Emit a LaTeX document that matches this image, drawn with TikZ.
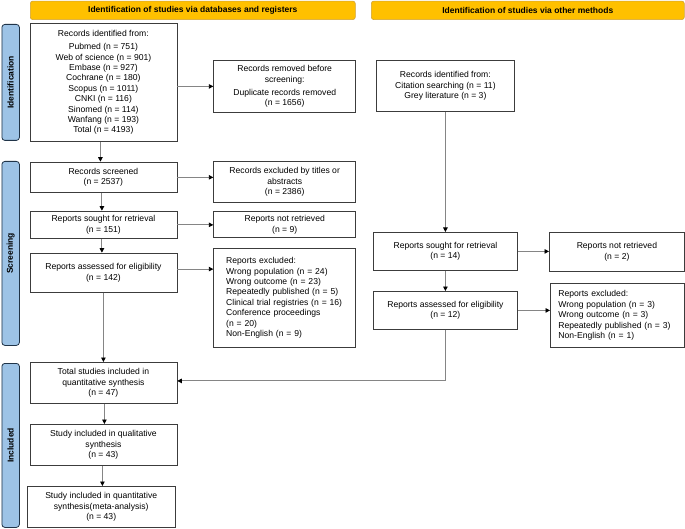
\documentclass[tikz,border=0pt]{standalone}
\usepackage{fontspec}
\setmainfont{Liberation Sans}
\usetikzlibrary{arrows.meta,calc}
\definecolor{banner}{HTML}{FFC000}
\definecolor{bannerline}{HTML}{CFA23A}
\definecolor{sidefill}{HTML}{9DC3E6}
\definecolor{sideline}{HTML}{203448}
\definecolor{boxline}{HTML}{3C3C3C}
\definecolor{conn}{HTML}{858585}
\begin{document}
\begin{tikzpicture}[x=1pt,y=-1pt,
  txt/.style={font=\fontsize{8.6}{10.4}\selectfont},
  box/.style={draw=boxline, line width=0.8pt, fill=white, rectangle, inner sep=0pt, anchor=north west, align=center, txt},
  lbox/.style={box, align=left},
  bannerbox/.style={draw=bannerline, line width=0.6pt, fill=banner, rounded corners=2.5pt, inner sep=0pt, anchor=north west, font=\bfseries\fontsize{8.5}{10}\selectfont},
  sidebox/.style={draw=sideline, line width=0.8pt, fill=sidefill, rounded corners=3pt, inner sep=0pt, anchor=north west},
  sidetext/.style={rotate=90, font=\bfseries\fontsize{8.5}{10}\selectfont},
  arr/.style={draw=conn, line width=0.9pt, -{Triangle[length=4.5pt,width=4.5pt,color=black]}},
  conline/.style={draw=conn, line width=0.9pt}
]
\useasboundingbox (0,0) rectangle (685,529);

% banners
\node[bannerbox, minimum width=325pt, minimum height=18.5pt] (ban1) at (30,0.8) {Identification of studies via databases and registers};
\node[bannerbox, minimum width=313pt, minimum height=18.5pt] (ban2) at (371,0.8) {Identification of studies via other methods};

% side labels
\node[sidebox, minimum width=17.5pt, minimum height=116pt] (sid) at (1.5,24) {};
\node[sidetext] (sidt) at (sid.center) {Identification};
\node[sidebox, minimum width=17.5pt, minimum height=184pt] (sscr) at (1.5,161) {};
\node[sidetext] (sscrt) at (sscr.center) {Screening};
\node[sidebox, minimum width=17.5pt, minimum height=164pt] (sinc) at (1.5,363) {};
\node[sidetext] (sinct) at (sinc.center) {Included};

% left column
\node[box, minimum width=147pt, minimum height=118pt] (id) at (29.5,23.3) {Records identified from:\\[2.5pt] Pubmed (n = 751)\\ Web of science (n = 901)\\ Embase (n = 927)\\ Cochrane (n = 180)\\ Scopus (n = 1011)\\ CNKI (n = 116)\\ Sinomed (n = 114)\\ Wanfang (n = 193)\\ Total (n = 4193)};
\node[box, minimum width=142pt, minimum height=52pt] (rem) at (213.3,60) {Records removed before\\ screening:\\[2.5pt] Duplicate records removed\\ (n = 1656)};

\node[box, minimum width=147pt, minimum height=30.5pt] (scr) at (29.5,161.7) {Records screened\\ (n = 2537)};
\node[box, minimum width=142pt, minimum height=40.5pt] (ex1) at (213.3,161.2) {Records excluded by titles or\\ abstracts\\ (n = 2386)};

\node[box, minimum width=147pt, minimum height=27.5pt] (sou) at (29.5,210.7) {Reports sought for retrieval\\ (n = 151)};
\node[box, minimum width=142pt, minimum height=26.5pt] (nre) at (213.3,211) {Reports not retrieved\\ (n = 9)};

\node[box, minimum width=147pt, minimum height=39pt] (ass) at (29.5,252.7) {Reports assessed for eligibility\\ (n = 142)};
\node[lbox, minimum width=142pt, minimum height=99pt, inner xsep=12.5pt, text width=117pt] (ex2) at (213.3,248) {Reports excluded:\\ Wrong population (n = 24)\\ Wrong outcome (n = 23)\\ Repeatedly published (n = 5)\\ Clinical trial registries (n = 16)\\ Conference proceedings\\ (n = 20)\\ Non-English (n = 9)};

\node[box, minimum width=147pt, minimum height=41pt] (tot) at (29.5,362) {Total studies included in\\ quantitative synthesis\\ (n = 47)};
\node[box, minimum width=147pt, minimum height=41pt] (qual) at (29.5,424) {Study included in qualitative\\ synthesis\\ (n = 43)};
\node[box, minimum width=148pt, minimum height=41pt] (quan) at (26.8,486) {Study included in quantitative\\ synthesis(meta-analysis)\\ (n = 43)};

% right column
\node[box, minimum width=138pt, minimum height=51pt] (rid) at (376,60) {Records identified from:\\ Citation searching (n = 11)\\ Grey literature (n = 3)};
\node[box, minimum width=144pt, minimum height=38pt] (rsou) at (373,232) {Reports sought for retrieval\\ (n = 14)};
\node[box, minimum width=135pt, minimum height=39pt] (rnre) at (549,232) {Reports not retrieved\\ (n = 2)};
\node[box, minimum width=144pt, minimum height=38pt] (rass) at (373,291) {Reports assessed for eligibility\\ (n = 12)};
\node[lbox, minimum width=134pt, minimum height=64pt, inner xsep=8pt, text width=118pt] (rex) at (550,283) {Reports excluded:\\ Wrong population (n = 3)\\ Wrong outcome (n = 3)\\ Repeatedly published (n = 3)\\ Non-English (n = 1)};

% connectors left
\draw[arr] ([xshift=-3pt]id.south) -- ([xshift=-3pt]id.south |- scr.north);
\draw[arr] (id.east |- rem.west) -- (rem.west);
\draw[arr] ([xshift=-1.5pt]scr.south) -- ([xshift=-1.5pt]scr.south |- sou.north);
\draw[arr] (scr.east) -- (scr.east -| ex1.west);
\draw[arr] ([xshift=-1.5pt]sou.south) -- ([xshift=-1.5pt]sou.south |- ass.north);
\draw[arr] (sou.east) -- (sou.east -| nre.west);
\draw[arr] ([yshift=3.5pt]ass.east) -- ([yshift=3.5pt]ass.east -| ex2.west);
\draw[arr] (ass.south) -- (ass.south |- tot.north);
\draw[arr] ([xshift=1pt]tot.south) -- ([xshift=1pt]tot.south |- qual.north);
\draw[arr] ([xshift=-1pt]qual.south) -- ([xshift=-1pt]qual.south |- quan.north);

% connectors right
\draw[arr] (rid.south) -- (rid.south |- rsou.north);
\draw[arr] (rsou.east) -- (rsou.east -| rnre.west);
\draw[arr] (rsou.south) -- (rsou.south |- rass.north);
\draw[arr] (rass.east) -- (rass.east -| rex.west);
\draw[arr] (rass.south) |- ([yshift=2pt]tot.east);
\end{tikzpicture}
\end{document}
